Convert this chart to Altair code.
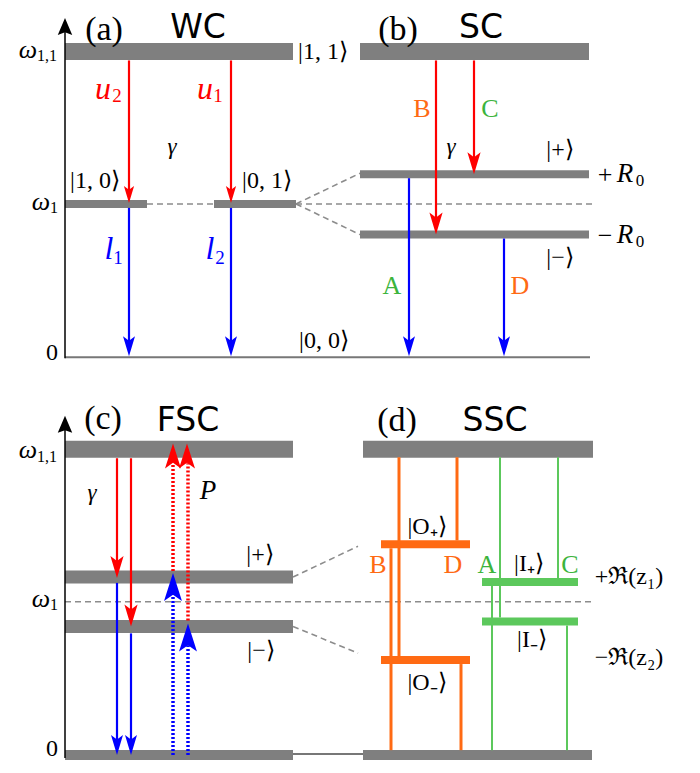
import altair as alt
import pandas as pd

# ---------------- palette ----------------
GRAY = "#7f7f7f"
DASH = "#8c8c8c"
RED = "#ff0000"
BLUE = "#0000ff"
ORANGE = "#ff6a13"
GREEN = "#5cc85c"
GREENTXT = "#3cb43c"
BLACK = "#000000"

STYLE = {  # kind -> (colour, thickness)
    "top": (GRAY, 17), "mid": (GRAY, 8), "fsc": (GRAY, 13), "floor": (GRAY, 10),
    "base": ("#777777", 2), "orange": (ORANGE, 8), "green": (GREEN, 8),
}

# ---------------- energy levels (diagram coordinates) ----------------
level_x1 = [65, 360, 65, 214, 360, 360, 65, 65, 65, 65, 65, 293, 363, 363, 381, 381, 482, 482]
level_x2 = [293, 589, 147, 296, 589, 589, 590, 293, 293, 293, 293, 363, 592, 593, 470, 470, 578, 578]
level_y = [52, 52, 206, 206, 176, 237, 361, 454, 583, 633, 763, 762, 763, 454, 550, 667, 588, 628]
level_kind = ["top", "top", "mid", "mid", "mid", "mid", "base", "top", "fsc", "fsc", "floor",
              "base", "floor", "top", "orange", "orange", "green", "green"]

# ---------------- dashed guide lines ----------------
dash_x1 = [147, 296, 296, 296, 65, 293, 293]
dash_y1 = [206, 206, 206, 206, 608, 583, 633]
dash_x2 = [214, 595, 360, 360, 593, 358, 358]
dash_y2 = [206, 206, 175, 237, 608, 552, 660]

# ---------------- transitions (vertical) ----------------
tr_x = [129, 231, 129, 231, 436, 474, 409, 504, 117, 131, 117, 131,
        399, 391, 457, 461, 500, 492, 558, 567, 65, 65]
tr_y1 = [61, 61, 210, 210, 61, 61, 180, 241, 463, 463, 589, 640,
         462, 554, 462, 671, 462, 592, 462, 632, 362, 766]
tr_y2 = [196, 196, 348, 348, 225, 164, 348, 348, 572, 622, 750, 750,
         663, 758, 546, 758, 624, 758, 584, 758, 30, 432]
tr_col = ["R", "R", "B", "B", "R", "R", "B", "B", "R", "R", "B", "B",
          "O", "O", "O", "O", "G", "G", "G", "G", "K", "K"]

dot_x = [173, 188, 173, 188]
dot_y1 = [577, 627, 763, 763]
dot_y2 = [468, 468, 600, 652]
dot_col = ["R", "R", "B", "B"]

# ---------------- arrow heads ----------------
head_x = [129, 231, 129, 231, 436, 474, 409, 504, 117, 131, 117, 131,
          173, 187, 173, 188, 65, 65]
head_y = [205, 205, 360, 360, 237, 176, 360, 360, 584, 633, 763, 763,
          448, 448, 579, 630, 18, 420]
head_len = [17, 17, 20, 20, 22, 22, 20, 20, 22, 22, 20, 20, 25, 25, 28, 28, 17, 17]
head_dir = ["d"] * 12 + ["u"] * 4 + ["a", "a"]
head_col = ["R", "R", "B", "B", "R", "R", "B", "B", "R", "R", "B", "B",
            "R", "R", "B", "B", "K", "K"]

COL = {"R": RED, "B": BLUE, "O": ORANGE, "G": GREEN, "K": BLACK}
WID = {"R": 2.2, "B": 2.2, "O": 3, "G": 2, "K": 1.5}
SHAPE = {
    "d": "M0,0L-0.6,-2L0,-1.55L0.6,-2Z",
    "u": "M0,0L-0.64,2L0,1.55L0.64,2Z",
    "a": "M0,0L-0.85,2L0,1.7L0.85,2Z",
}

# ---------------- labels ----------------
# (x, y, text, size, colour, face)
labels = [
    (104, 30, "(a)", 34, BLACK, "serif"), (198, 28, "WC", 33, BLACK, "sans"),
    (398, 30, "(b)", 34, BLACK, "serif"), (481, 28, "SC", 33, BLACK, "sans"),
    (103, 423, "(c)", 34, BLACK, "serif"), (188, 425, "FSC", 33, BLACK, "sans"),
    (397, 425, "(d)", 34, BLACK, "serif"), (495, 425, "SSC", 33, BLACK, "sans"),
    (28, 50, "ω", 26, BLACK, "italic"), (47, 57, "1,1", 16, BLACK, "serif"),
    (41, 204, "ω", 26, BLACK, "italic"), (54, 210, "1", 16, BLACK, "serif"),
    (52, 357, "0", 24, BLACK, "serif"),
    (28, 455, "ω", 26, BLACK, "italic"), (47, 462, "1,1", 16, BLACK, "serif"),
    (41, 605, "ω", 26, BLACK, "italic"), (54, 611, "1", 16, BLACK, "serif"),
    (52, 757, "0", 24, BLACK, "serif"),
    (323, 52, "|1, 1⟩", 24, BLACK, "serif"), (95, 183, "|1, 0⟩", 24, BLACK, "serif"),
    (267, 183, "|0, 1⟩", 24, BLACK, "serif"), (324, 345, "|0, 0⟩", 24, BLACK, "serif"),
    (560, 152, "|+⟩", 24, BLACK, "serif"), (560, 261, "|−⟩", 24, BLACK, "serif"),
    (605, 177, "+", 26, BLACK, "serif"), (625, 176, "R", 27, BLACK, "italic"), (640, 183, "0", 17, BLACK, "serif"),
    (605, 238, "−", 26, BLACK, "serif"), (625, 237, "R", 27, BLACK, "italic"), (640, 244, "0", 17, BLACK, "serif"),
    (103, 90, "u", 32, RED, "italic"), (117, 97, "2", 19, RED, "serif"),
    (205, 90, "u", 32, RED, "italic"), (218, 97, "1", 19, RED, "serif"),
    (109, 252, "l", 32, BLUE, "italic"), (118, 261, "1", 19, BLUE, "serif"),
    (210, 252, "l", 32, BLUE, "italic"), (220, 261, "2", 19, BLUE, "serif"),
    (172, 148, "γ", 23, BLACK, "italic"), (451, 148, "γ", 23, BLACK, "italic"),
    (92, 498, "γ", 23, BLACK, "italic"), (208, 496, "P", 27, BLACK, "italic"),
    (422, 110, "B", 26, ORANGE, "serif"), (490, 110, "C", 26, GREENTXT, "serif"),
    (392, 289, "A", 26, GREENTXT, "serif"), (520, 289, "D", 26, ORANGE, "serif"),
    (260, 561, "|+⟩", 24, BLACK, "serif"), (261, 658, "|−⟩", 24, BLACK, "serif"),
    (427, 532, "|O₊⟩", 24, BLACK, "serif"), (427, 690, "|O₋⟩", 24, BLACK, "serif"),
    (529, 570, "|I₊⟩", 24, BLACK, "serif"), (532, 647, "|I₋⟩", 24, BLACK, "serif"),
    (378, 571, "B", 26, ORANGE, "serif"), (453, 571, "D", 26, ORANGE, "serif"),
    (487, 571, "A", 26, GREENTXT, "serif"), (570, 571, "C", 26, GREENTXT, "serif"),
    (629, 583, "+ℜ(z₁)", 24, BLACK, "serif"), (629, 665, "−ℜ(z₂)", 24, BLACK, "serif"),
]

# ---------------- build tables ----------------
levels = pd.DataFrame({
    "x1": level_x1, "x2": level_x2, "y": level_y,
    "color": [STYLE[k][0] for k in level_kind], "w": [STYLE[k][1] for k in level_kind],
})
dashes = pd.DataFrame({"x1": dash_x1, "y1": dash_y1, "x2": dash_x2, "y2": dash_y2})
trans = pd.DataFrame({"x": tr_x, "y1": tr_y1, "y2": tr_y2,
                      "color": [COL[c] for c in tr_col], "w": [WID[c] for c in tr_col]})
dots = pd.DataFrame({"x": dot_x, "y1": dot_y1, "y2": dot_y2, "color": [COL[c] for c in dot_col]})
heads = pd.DataFrame({"x": head_x, "y": head_y, "shape": [SHAPE[d] for d in head_dir],
                      "color": [COL[c] for c in head_col], "size": [l * l for l in head_len]})
texts = pd.DataFrame(labels, columns=["x", "y", "text", "size", "color", "face"])

X = alt.Scale(domain=[8, 692])
Y = alt.Scale(domain=[8, 773], reverse=True)


def xe(f):
    return alt.X(f, type="quantitative", scale=X, axis=None)


def ye(f):
    return alt.Y(f, type="quantitative", scale=Y, axis=None)


dash_layer = alt.Chart(dashes).mark_rule(strokeDash=[6, 4], color=DASH, strokeWidth=1.6).encode(
    x=xe("x1"), y=ye("y1"), x2="x2:Q", y2="y2:Q")

level_layer = alt.Chart(levels).mark_rule(strokeCap="butt").encode(
    x=xe("x1"), x2="x2:Q", y=ye("y"),
    color=alt.Color("color:N", scale=None), size=alt.Size("w:Q", scale=None))

trans_layer = alt.Chart(trans).mark_rule(strokeCap="butt").encode(
    x=xe("x"), y=ye("y1"), y2="y2:Q",
    color=alt.Color("color:N", scale=None), size=alt.Size("w:Q", scale=None))

dot_layer = alt.Chart(dots).mark_rule(strokeCap="butt", strokeDash=[2, 2], strokeWidth=3.5).encode(
    x=xe("x"), y=ye("y1"), y2="y2:Q", color=alt.Color("color:N", scale=None))

head_layer = alt.Chart(heads).mark_point(filled=True, opacity=1, strokeWidth=0).encode(
    x=xe("x"), y=ye("y"),
    shape=alt.Shape("shape:N", scale=None),
    color=alt.Color("color:N", scale=None), size=alt.Size("size:Q", scale=None))


def text_layer(face, font, style=None):
    kw = dict(font=font, align="center", baseline="middle")
    if style:
        kw["fontStyle"] = style
    return alt.Chart(texts[texts.face == face]).mark_text(**kw).encode(
        x=xe("x"), y=ye("y"), text="text:N",
        size=alt.Size("size:Q", scale=None), color=alt.Color("color:N", scale=None))


chart = alt.layer(
    dash_layer, level_layer, trans_layer, dot_layer, head_layer,
    text_layer("serif", "Liberation Serif"),
    text_layer("italic", "Liberation Serif", "italic"),
    text_layer("sans", "DejaVu Sans"),
).properties(
    width=684, height=757, padding=0,
    autosize=alt.AutoSizeParams(type="fit", contains="padding"),
).configure_view(stroke=None)

chart.save("out.html", embed_options={"renderer": "svg", "actions": False})
